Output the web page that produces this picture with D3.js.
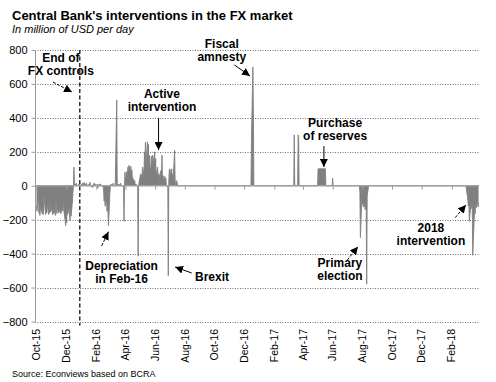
<!DOCTYPE html>
<html><head><meta charset="utf-8">
<script src="https://cdn.jsdelivr.net/npm/d3@7"></script>
<style>body{margin:0;background:#fff}svg{display:block}</style>
</head><body>
<svg id="chart" width="496" height="382"></svg>
<script>
const title = "Central Bank's interventions in the FX market";
const subtitle = "In million of USD per day";
const sourceNote = "Source: Econviews based on BCRA";

const yTicks = [800, 600, 400, 200, 0, -200, -400, -600, -800];
const xTickDates = ["2015-10-01","2015-12-01","2016-02-01","2016-04-01","2016-06-01","2016-08-01","2016-10-01","2016-12-01","2017-02-01","2017-04-01","2017-06-01","2017-08-01","2017-10-01","2017-12-01","2018-02-01"];
const xTickLabels = ["Oct-15","Dec-15","Feb-16","Apr-16","Jun-16","Aug-16","Oct-16","Dec-16","Feb-17","Apr-17","Jun-17","Aug-17","Oct-17","Dec-17","Feb-18"];

// Daily net FX purchases (+) / sales (-) of the Central Bank, USD million
const seriesDates = [
"2015-10-01","2015-10-02","2015-10-05","2015-10-06","2015-10-07","2015-10-08","2015-10-09","2015-10-13","2015-10-14","2015-10-15","2015-10-16",
"2015-10-19","2015-10-20","2015-10-21","2015-10-22","2015-10-23","2015-10-26","2015-10-27","2015-10-28","2015-10-29","2015-10-30",
"2015-11-02","2015-11-03","2015-11-04","2015-11-05","2015-11-06","2015-11-09","2015-11-10","2015-11-11","2015-11-12","2015-11-13",
"2015-11-16","2015-11-17","2015-11-18","2015-11-19","2015-11-20","2015-11-23","2015-11-24","2015-11-25","2015-11-26","2015-11-27",
"2015-11-30","2015-12-01","2015-12-02","2015-12-03","2015-12-04","2015-12-07","2015-12-09","2015-12-10","2015-12-11","2015-12-14",
"2015-12-15","2015-12-16","2015-12-17","2015-12-18","2015-12-21","2015-12-22","2015-12-23","2015-12-28","2015-12-29",
"2016-01-04","2016-01-05","2016-01-07","2016-01-08","2016-01-12","2016-01-13","2016-01-18","2016-01-19","2016-01-20","2016-01-25",
"2016-01-26","2016-01-28","2016-02-01","2016-02-03","2016-02-04","2016-02-05","2016-02-10","2016-02-11","2016-02-15",
"2016-02-16","2016-02-17","2016-02-18","2016-02-19","2016-02-22","2016-02-23","2016-02-24","2016-02-25","2016-02-26","2016-02-29",
"2016-03-01","2016-03-02","2016-03-03","2016-03-07","2016-03-08","2016-03-11","2016-03-14","2016-03-15","2016-03-17","2016-03-18",
"2016-03-22","2016-03-23","2016-03-28","2016-03-29","2016-03-30","2016-03-31","2016-04-01","2016-04-04","2016-04-05","2016-04-06",
"2016-04-07","2016-04-08","2016-04-11","2016-04-12","2016-04-13","2016-04-14","2016-04-15","2016-04-18","2016-04-19","2016-04-20",
"2016-04-21","2016-04-22","2016-04-26","2016-04-27","2016-04-28","2016-04-29","2016-05-02","2016-05-03","2016-05-04","2016-05-05",
"2016-05-06","2016-05-09","2016-05-10","2016-05-11","2016-05-12","2016-05-13","2016-05-16","2016-05-17","2016-05-18","2016-05-19",
"2016-05-20","2016-05-23","2016-05-24","2016-05-26","2016-05-27","2016-05-30","2016-05-31","2016-06-01","2016-06-02","2016-06-03",
"2016-06-06","2016-06-07","2016-06-08","2016-06-09","2016-06-10","2016-06-13","2016-06-14","2016-06-15","2016-06-16","2016-06-17",
"2016-06-20","2016-06-21","2016-06-22","2016-06-23","2016-06-24","2016-06-27","2016-06-28","2016-06-29","2016-06-30","2016-07-01",
"2016-07-04","2016-07-05","2016-07-06","2016-07-07","2016-07-08","2016-07-11","2016-07-12","2016-07-13","2016-07-14","2016-07-15",
"2016-07-18","2016-12-15","2016-12-16","2016-12-19","2016-12-20","2016-12-21",
"2017-03-13","2017-03-14","2017-03-15","2017-03-21","2017-03-22","2017-03-23","2017-03-24",
"2017-05-01","2017-05-02","2017-05-03","2017-05-04","2017-05-05","2017-05-08","2017-05-09","2017-05-10","2017-05-11","2017-05-12",
"2017-05-15","2017-05-16","2017-05-17","2017-05-18","2017-05-31","2017-06-01","2017-06-02",
"2017-07-26","2017-07-27","2017-07-28","2017-07-31","2017-08-01","2017-08-02","2017-08-03","2017-08-04","2017-08-07","2017-08-08",
"2017-08-09","2017-08-10","2017-08-11","2017-08-14",
"2018-03-02","2018-03-05","2018-03-06","2018-03-07","2018-03-08","2018-03-09","2018-03-12","2018-03-13","2018-03-14","2018-03-15",
"2018-03-16","2018-03-19","2018-03-20","2018-03-21","2018-03-22","2018-03-23","2018-03-26","2018-03-27","2018-03-28"
];
const seriesValues = [
-120,-150,-60,-160,-140,-175,-130,-165,-120,-170,-50,
-150,-170,-130,-160,-110,-170,-140,-160,-90,-155,
-130,-170,-120,-165,-140,-175,-60,-150,-165,-130,
-160,-100,-155,-140,-165,-120,-150,-40,-140,-160,
-235,-150,-220,-110,-170,-130,-205,-120,-180,-90,
-40,0,110,15,5,15,0,10,0,
15,0,20,5,15,0,10,20,0,-10,
10,15,0,10,-15,5,10,0,0,
-30,-90,-60,-120,-80,-150,-100,-160,-235,-40,
0,10,0,15,0,0,505,0,10,0,
15,0,0,-210,0,80,20,85,30,110,
60,120,80,115,40,95,50,35,15,30,
0,10,0,-415,0,20,70,30,65,45,
110,70,200,130,255,110,260,170,245,90,
180,60,175,110,180,130,200,90,160,60,
110,40,70,20,60,90,50,180,40,60,
20,55,10,45,0,0,-530,20,90,100,
60,100,40,70,30,210,40,0,0,30,
0,0,270,700,430,0,
0,300,0,0,300,290,0,
0,100,100,100,100,100,100,100,100,100,
100,100,100,0,0,45,0,
0,-40,-305,-80,-110,-60,-125,-90,-140,-100,
-150,-580,-60,0,
0,-60,-85,-120,-70,-210,-120,-95,-135,-90,
-410,-200,-150,-165,-100,-130,-90,-125,-100
];

const fxControlsEndDate = "2015-12-29";

const annotations = [
  {lines:["End of","FX controls"], date:"2015-11-20", value:731, from:["2015-11-04",611], to:["2015-12-13",552], dashed:true},
  {lines:["Active","intervention"], date:"2016-06-15", value:517, from:["2016-06-08",400], to:["2016-06-08",210], dashed:false},
  {lines:["Fiscal","amnesty"], date:"2016-10-16", value:812, from:["2016-11-11",712], to:["2016-12-13",647], dashed:false},
  {lines:["Purchase","of reserves"], date:"2017-06-06", value:346, from:["2017-05-14",234], to:["2017-05-14",110], dashed:false},
  {lines:["Depreciation","in Feb-16"], date:"2016-03-24", value:-496, from:["2016-02-12",-354], to:["2016-02-26",-271], dashed:true},
  {lines:["Brexit"], date:"2016-09-26", value:-561, from:["2016-08-15",-514], to:["2016-07-12",-479], dashed:false},
  {lines:["Primary","election"], date:"2017-06-16", value:-479, from:["2017-07-01",-438], to:["2017-07-23",-359], dashed:true},
  {lines:["2018","intervention"], date:"2017-12-20", value:-273, from:["2018-02-08",-188], to:["2018-03-02",-113], dashed:true}
];

const parse = d3.timeParse("%Y-%m-%d");
const svg = d3.select("#chart");
const FONT = "'Liberation Sans', Arial, sans-serif";

const x = d3.scaleTime().domain([parse("2015-10-01"), parse("2018-02-01")]).range([36.5, 451.8]);
const y = d3.scaleLinear().domain([-800, 800]).range([321.5, 50]);
const plotLeft = 35, plotRight = 479;

// title
svg.append("text").attr("x", 12).attr("y", 19.5).attr("font-family", FONT).attr("font-weight", "bold")
  .attr("font-size", 13).attr("fill", "#000").text(title);
svg.append("text").attr("x", 12).attr("y", 33).attr("font-family", FONT).attr("font-style", "italic")
  .attr("font-size", 11).attr("fill", "#000").text(subtitle);

// gridlines
svg.append("g").selectAll("line").data(yTicks.filter(d => d !== 0)).join("line")
  .attr("x1", plotLeft).attr("x2", plotRight)
  .attr("y1", d => Math.round(y(d)) + 0.5).attr("y2", d => Math.round(y(d)) + 0.5)
  .attr("stroke", "#6f6f6f").attr("stroke-width", 1).attr("stroke-dasharray", "1,1.5");

// y axis
const yAxis = d3.axisLeft(y).tickValues(yTicks).tickSize(4).tickPadding(4).tickFormat(d3.format("d"));
const gy = svg.append("g").attr("transform", `translate(${plotLeft + 0.5},0)`).call(yAxis);
gy.select(".domain").attr("stroke", "#9a9a9a").attr("d", `M-0,${y(800)}V${y(-800)}`);
gy.selectAll(".tick line").attr("stroke", "#9a9a9a");
gy.selectAll(".tick text").attr("font-family", FONT).attr("font-size", 11).attr("fill", "#000");

// series
const series = seriesDates.map((d, i) => ({date: parse(d), value: seriesValues[i]}));
const area = d3.area().x(d => x(d.date)).y0(y(0)).y1(d => y(d.value));
svg.append("path").datum(series).attr("d", area).attr("fill", "#808080");
const line = d3.line().x(d => x(d.date)).y(d => y(d.value));
svg.append("path").datum(series).attr("d", line).attr("fill", "none").attr("stroke", "#808080").attr("stroke-width", 0.9);

// x axis at zero
const xAxis = d3.axisBottom(x).tickValues(xTickDates.map(parse)).tickSize(4).tickFormat("");
const gx = svg.append("g").attr("transform", `translate(0,${y(0)})`).call(xAxis);
gx.select(".domain").attr("stroke", "#a0a0a0").attr("stroke-width", 1.6).attr("d", `M${plotLeft},0H${plotRight}`);
gx.selectAll(".tick line").attr("stroke", "#a0a0a0");

// x labels at bottom, rotated
svg.append("g").selectAll("text").data(xTickDates).join("text")
  .attr("transform", d => `translate(${x(parse(d))},329) rotate(-90)`)
  .attr("text-anchor", "end").attr("dy", "0.35em")
  .attr("font-family", FONT).attr("font-size", 10.5).attr("fill", "#000")
  .text((d, i) => xTickLabels[i]);

// dashed vertical line: end of FX controls
svg.append("line")
  .attr("x1", x(parse(fxControlsEndDate))).attr("x2", x(parse(fxControlsEndDate)))
  .attr("y1", y(800)).attr("y2", y(-800) + 4)
  .attr("stroke", "#222").attr("stroke-width", 1.4).attr("stroke-dasharray", "4,2.5");

// arrow marker
svg.append("defs").append("marker").attr("id", "ah").attr("markerUnits", "userSpaceOnUse")
  .attr("markerWidth", 9).attr("markerHeight", 8).attr("refX", 8).attr("refY", 4).attr("orient", "auto")
  .append("path").attr("d", "M0,0 L8,4 L0,8 Z").attr("fill", "#000");

// annotations
const ann = svg.append("g");
annotations.forEach(a => {
  const t = ann.append("text").attr("x", x(parse(a.date))).attr("y", y(a.value))
    .attr("text-anchor", "middle").attr("font-family", FONT).attr("font-weight", "bold")
    .attr("font-size", 12).attr("fill", "#000");
  a.lines.forEach((l, i) => t.append("tspan").attr("x", x(parse(a.date))).attr("dy", i === 0 ? 0 : 13).text(l));
  ann.append("line")
    .attr("x1", x(parse(a.from[0]))).attr("y1", y(a.from[1]))
    .attr("x2", x(parse(a.to[0]))).attr("y2", y(a.to[1]))
    .attr("stroke", "#000").attr("stroke-width", 1)
    .attr("stroke-dasharray", a.dashed ? "3,1.5" : null)
    .attr("marker-end", "url(#ah)");
});

// source
svg.append("text").attr("x", 12).attr("y", 377).attr("font-family", FONT)
  .attr("font-size", 9).attr("fill", "#000").text(sourceNote);
</script>
</body></html>
